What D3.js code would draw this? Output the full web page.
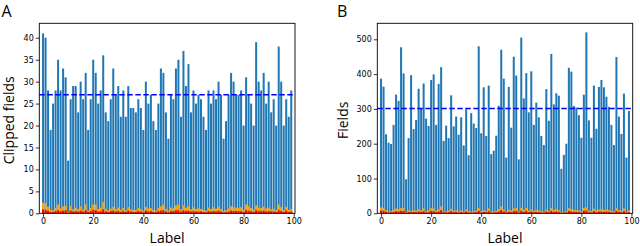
<!DOCTYPE html>
<html>
<head>
<meta charset="utf-8">
<script src="https://cdn.jsdelivr.net/npm/d3@7"></script>
<style>
  html, body { margin: 0; padding: 0; background: #fff; }
  svg { display: block; }
</style>
</head>
<body>
<svg id="chart" width="640" height="246"></svg>
<script>
// ---------- DATA ----------
const labels = d3.range(100);
const xTicks = [0, 20, 40, 60, 80, 100];

const clippedTotal = [41,40,28,19,25,28,35,28,33,31, 12,26,29,29,23,30,26,32,19,26,
  35,32,25,28,36,23,21,26,33,27, 29,22,28,22,29,24,24,23,26,24,
  19,30,25,27,21,19,25,33,32,23, 17,27,26,33,35,22,37,29,34,23,
  28,25,27,26,22,19,28,25,28,26, 30,27,17,21,27,32,30,27,27,28,
  20,31,27,25,20,39,30,28,32,25, 30,23,26,20,38,30,20,26,22,28];
const clippedOrange = [2.4,2.3,1.5,0.8,0.7,1.2,2.0,1.1,1.6,1.7, 0.3,1.7,0.9,1.3,1.0,1.6,0.9,2.0,0.6,1.2,
  2.0,2.0,1.0,1.3,2.6,1.0,0.7,1.1,1.5,1.0, 1.3,0.8,1.2,0.7,1.4,0.9,0.8,0.7,1.2,1.0,
  0.6,1.5,1.1,1.2,0.8,0.6,1.2,1.6,2.0,1.0, 0.5,1.3,1.2,1.8,2.0,0.9,1.8,1.3,1.6,0.9,
  1.4,1.0,1.1,1.0,0.8,0.6,1.3,1.0,1.4,1.1, 1.5,1.0,0.5,0.7,1.1,1.6,1.4,1.3,1.2,1.4,
  0.8,2.0,1.6,1.2,0.8,1.8,1.3,1.2,1.5,1.1, 1.3,0.9,1.0,0.8,2.0,1.4,0.7,1.5,0.8,1.0];
const clippedRed = [0.9,0.8,0.6,0.3,0.3,0.5,0.7,0.5,0.6,0.7, 0.1,0.6,0.4,0.5,0.4,0.6,0.4,0.7,0.3,0.5,
  0.8,0.7,0.4,0.5,0.9,0.4,0.3,0.5,0.6,0.4, 0.5,0.3,0.5,0.3,0.6,0.4,0.3,0.3,0.5,0.4,
  0.2,0.6,0.4,0.5,0.3,0.3,0.5,0.6,0.7,0.4, 0.2,0.5,0.5,0.7,0.7,0.4,0.7,0.5,0.6,0.4,
  0.5,0.4,0.4,0.4,0.3,0.2,0.5,0.4,0.5,0.4, 0.6,0.4,0.2,0.3,0.4,0.6,0.5,0.5,0.5,0.5,
  0.3,0.7,0.6,0.5,0.3,0.7,0.5,0.5,0.6,0.4, 0.5,0.4,0.4,0.3,0.7,0.5,0.3,0.6,0.3,0.4];
const clippedMean = 27;
const clippedYTicks = [0,5,10,15,20,25,30,35,40];

const fieldsTotal = [387,364,227,203,199,254,341,323,477,402, 98,216,397,242,268,358,300,373,272,251,
  383,399,254,372,420,208,252,216,339,250, 278,226,276,195,299,167,288,258,245,480,
  230,362,222,367,170,180,223,309,470,387, 160,363,246,450,396,155,505,330,403,290,
  408,254,318,276,222,196,357,266,458,313, 345,338,128,168,200,418,407,308,304,282,
  217,341,520,267,217,367,243,363,383,362, 335,306,254,196,449,278,228,344,160,294];
const fieldsOrange = [17,16,9,5,6,10,14,12,15,15, 3,9,7,9,8,12,9,14,6,8,
  15,14,8,11,20,6,5,8,13,7, 9,6,8,5,11,6,5,6,8,15,
  6,9,7,14,5,5,7,12,20,11, 4,10,8,14,15,5,16,10,15,8,
  11,7,10,8,6,5,11,7,15,10, 12,9,3,4,6,15,12,10,9,8,
  6,16,17,8,6,13,8,11,12,10, 11,9,7,6,15,9,7,14,4,8];
const fieldsRed = [8,7,4,2,3,4,6,5,7,7, 1,4,3,4,3,5,4,6,2,3,
  7,6,3,5,9,3,2,3,6,3, 4,2,3,2,5,2,2,2,3,7,
  2,4,3,6,2,2,3,5,9,5, 2,4,3,6,7,2,7,4,7,3,
  5,3,4,3,2,2,5,3,7,4, 5,4,1,2,2,7,5,4,4,3,
  2,7,8,3,2,6,3,5,5,4, 5,4,3,2,7,4,3,6,2,3];
const fieldsMean = 301;
const fieldsYTicks = [0,100,200,300,400,500];

// ---------- DRAW ----------
const svg = d3.select("#chart");

function panel(opts) {
  const {left, right, top, bottom, yMax, total, orange, red, mean, yTicks, letter, letterX, yLabel, yLabelX} = opts;
  const g = svg.append("g");
  const x = d3.scaleLinear().domain([-1.5, 100.5]).range([left, right]);
  const y = d3.scaleLinear().domain([0, yMax]).range([bottom, top]);
  const bw = x(0.8) - x(0);

  const layers = [[total, "#1f77b4"], [orange, "#ffa500"], [red, "#ff0000"]];
  layers.forEach(([vals, col]) => {
    g.append("g").selectAll("rect").data(labels).join("rect")
      .attr("x", i => x(i) - bw / 2)
      .attr("width", bw)
      .attr("y", i => y(vals[i]))
      .attr("height", i => y(0) - y(vals[i]))
      .attr("fill", col);
  });

  g.append("line")
    .attr("x1", left).attr("x2", right)
    .attr("y1", y(mean)).attr("y2", y(mean))
    .attr("stroke", "#0000ff").attr("stroke-width", 1.4)
    .attr("stroke-dasharray", "5.5,2.5");

  // axes
  const xAxis = d3.axisBottom(x).tickValues(xTicks).tickSize(3.5).tickPadding(2);
  const yAxis = d3.axisLeft(y).tickValues(yTicks).tickSize(3.5).tickPadding(2);
  const gx = g.append("g").attr("transform", `translate(0,${bottom})`).call(xAxis);
  const gy = g.append("g").attr("transform", `translate(${left},0)`).call(yAxis);
  [gx, gy].forEach(a => {
    a.select(".domain").remove();
    a.selectAll("text").attr("font-family", "DejaVu Sans").attr("font-size", 8).attr("fill", "#000");
    a.selectAll("line").attr("stroke", "#000").attr("stroke-width", 0.8);
  });

  g.append("rect")
    .attr("x", left).attr("y", top)
    .attr("width", right - left).attr("height", bottom - top)
    .attr("fill", "none").attr("stroke", "#000").attr("stroke-width", 0.9);

  g.append("text").text(letter)
    .attr("x", letterX).attr("y", 17)
    .attr("font-family", "Open Sans").attr("font-size", 16).attr("fill", "#000");

  g.append("text").text("Label")
    .attr("x", (left + right) / 2).attr("y", 243)
    .attr("text-anchor", "middle")
    .attr("font-family", "Open Sans").attr("font-size", 14).attr("fill", "#000");

  g.append("text").text(yLabel)
    .attr("transform", `translate(${yLabelX},${(top + bottom) / 2 + 2}) rotate(-90)`)
    .attr("text-anchor", "middle")
    .attr("font-family", "Open Sans").attr("font-size", 14).attr("fill", "#000");
}

panel({left: 39.3, right: 295, top: 23.3, bottom: 213.3, yMax: 43.3,
  total: clippedTotal, orange: clippedOrange, red: clippedRed, mean: clippedMean,
  yTicks: clippedYTicks, letter: "A", letterX: 1.5, yLabel: "Clipped fields", yLabelX: 13.5});

panel({left: 377.3, right: 632.7, top: 23.3, bottom: 213.3, yMax: 546,
  total: fieldsTotal, orange: fieldsOrange, red: fieldsRed, mean: fieldsMean,
  yTicks: fieldsYTicks, letter: "B", letterX: 337, yLabel: "Fields", yLabelX: 348});
</script>
</body>
</html>
